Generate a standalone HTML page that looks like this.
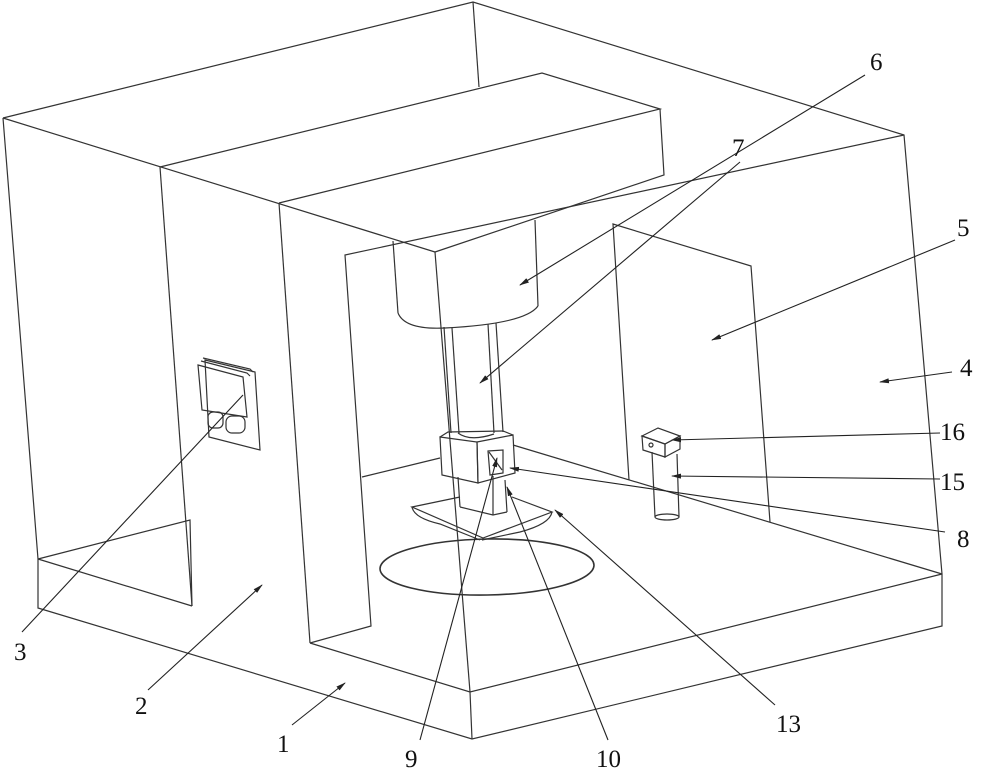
<!DOCTYPE html>
<html><head><meta charset="utf-8"><style>
html,body{margin:0;padding:0;background:#fff;}
svg{display:block}
text{font-family:"Liberation Serif",serif;font-size:25px;fill:#111;}
</style></head><body>
<svg width="1000" height="771" viewBox="0 0 1000 771" xmlns="http://www.w3.org/2000/svg">
<defs><marker id="a" markerWidth="10" markerHeight="6" refX="9" refY="3" orient="auto" markerUnits="userSpaceOnUse"><path d="M0,0.5 L10,3 L0,5.5z" fill="#222"/></marker></defs>
<g fill="none" stroke="#333" stroke-width="1.2">
<polyline points="3,118 473,2 904,135 942,574 942,626 472,739 38,608 38,559 3,118"/>
<line x1="473" y1="2" x2="479" y2="87"/>
<polyline points="38,559 190,520 192,606"/>
<polyline points="38,559 192,606"/>
<polyline points="310,643 470,692 942,574"/>
<line x1="470" y1="692" x2="472" y2="739"/>
<line x1="3" y1="118" x2="435" y2="252"/>
<line x1="435" y1="252" x2="470" y2="692"/>
<line x1="160" y1="167" x2="192" y2="606"/>
<line x1="279" y1="203" x2="310" y2="643"/>
<polyline points="310,643 371,626 345,255 904,135"/>
<polyline points="160,167 542,73 660,109 279,203"/>
<polyline points="660,109 664,175 435,252"/>
<line x1="393" y1="241" x2="398" y2="313"/>
<line x1="535" y1="220" x2="538" y2="306"/>
<path d="M398,313 Q405,330 445,328 Q525,324 538,306"/>
<line x1="444" y1="327" x2="451" y2="433"/>
<line x1="452" y1="328" x2="459" y2="433"/>
<line x1="488" y1="324" x2="494" y2="433"/>
<line x1="496" y1="323" x2="503" y2="432"/>
<path d="M458,433 Q470,442 494,434"/>
<polygon points="440,437 477,442 478,483 442,475"/>
<polygon points="477,442 513,435 515,473 478,483"/>
<polyline points="440,437 448,432 503,431 513,435"/>
<polygon points="488,451 503,450 503,473 490,475"/>
<line x1="489" y1="452" x2="502" y2="470"/>
<line x1="458" y1="477" x2="460" y2="507"/>
<line x1="505" y1="480" x2="507" y2="512"/>
<polyline points="460,507 493,515 507,512"/>
<line x1="493" y1="476" x2="493" y2="515"/>
<polyline points="460,497 412,507 483,538 552,512 512,497"/>
<path d="M412,507 Q414,518 440,524 L480,540"/>
<path d="M552,512 Q550,524 520,532 L482,540"/>
<ellipse cx="487" cy="567" rx="107" ry="28" stroke-width="1.6" transform="rotate(-1 487 567)"/>
<line x1="362" y1="477" x2="440" y2="458"/>
<line x1="513" y1="445" x2="942" y2="574"/>
<polyline points="629,480 613,224 751,266 770,522"/>
<polygon points="642,436 658,428 680,436 665,444"/>
<polygon points="642,436 665,444 665,457 643,450" />
<polygon points="665,444 680,436 680,449 665,457"/>
<circle cx="651" cy="445" r="2"/>
<line x1="652" y1="452" x2="655" y2="517"/>
<line x1="677" y1="454" x2="679" y2="517"/>
<ellipse cx="667" cy="517" rx="12" ry="3"/>
<polygon points="205,360 255,372 260,450 209,437"/>
<polyline points="203,358 250,369 253,372"/>
<polyline points="201,361 247,373 250,376"/>
<polygon points="198,365 243,377 247,417 202,410"/>
<rect x="208" y="412" width="15" height="16" rx="5"/>
<rect x="226" y="416" width="19" height="17" rx="6"/>
</g>
<g stroke="#222" stroke-width="1.1" fill="none">
<line x1="865" y1="75" x2="520" y2="285" marker-end="url(#a)"/>
<line x1="740" y1="162" x2="480" y2="383" marker-end="url(#a)"/>
<line x1="955" y1="240" x2="712" y2="340" marker-end="url(#a)"/>
<line x1="952" y1="372" x2="880" y2="382" marker-end="url(#a)"/>
<line x1="940" y1="433" x2="672" y2="440" marker-end="url(#a)"/>
<line x1="940" y1="479" x2="672" y2="476" marker-end="url(#a)"/>
<line x1="945" y1="532" x2="510" y2="468" marker-end="url(#a)"/>
<line x1="775" y1="705" x2="555" y2="510" marker-end="url(#a)"/>
<line x1="608" y1="740" x2="507" y2="487" marker-end="url(#a)"/>
<line x1="420" y1="740" x2="497" y2="458" marker-end="url(#a)"/>
<line x1="22" y1="632" x2="243" y2="395"/>
<line x1="148" y1="690" x2="262" y2="585" marker-end="url(#a)"/>
<line x1="292" y1="725" x2="345" y2="683" marker-end="url(#a)"/>
</g>
<text x="870" y="70">6</text>
<text x="732" y="156">7</text>
<text x="957" y="236">5</text>
<text x="960" y="376">4</text>
<text x="940" y="440">16</text>
<text x="940" y="490">15</text>
<text x="957" y="547">8</text>
<text x="776" y="732">13</text>
<text x="596" y="767">10</text>
<text x="405" y="767">9</text>
<text x="14" y="660">3</text>
<text x="135" y="714">2</text>
<text x="277" y="752">1</text>
</svg>
</body></html>
